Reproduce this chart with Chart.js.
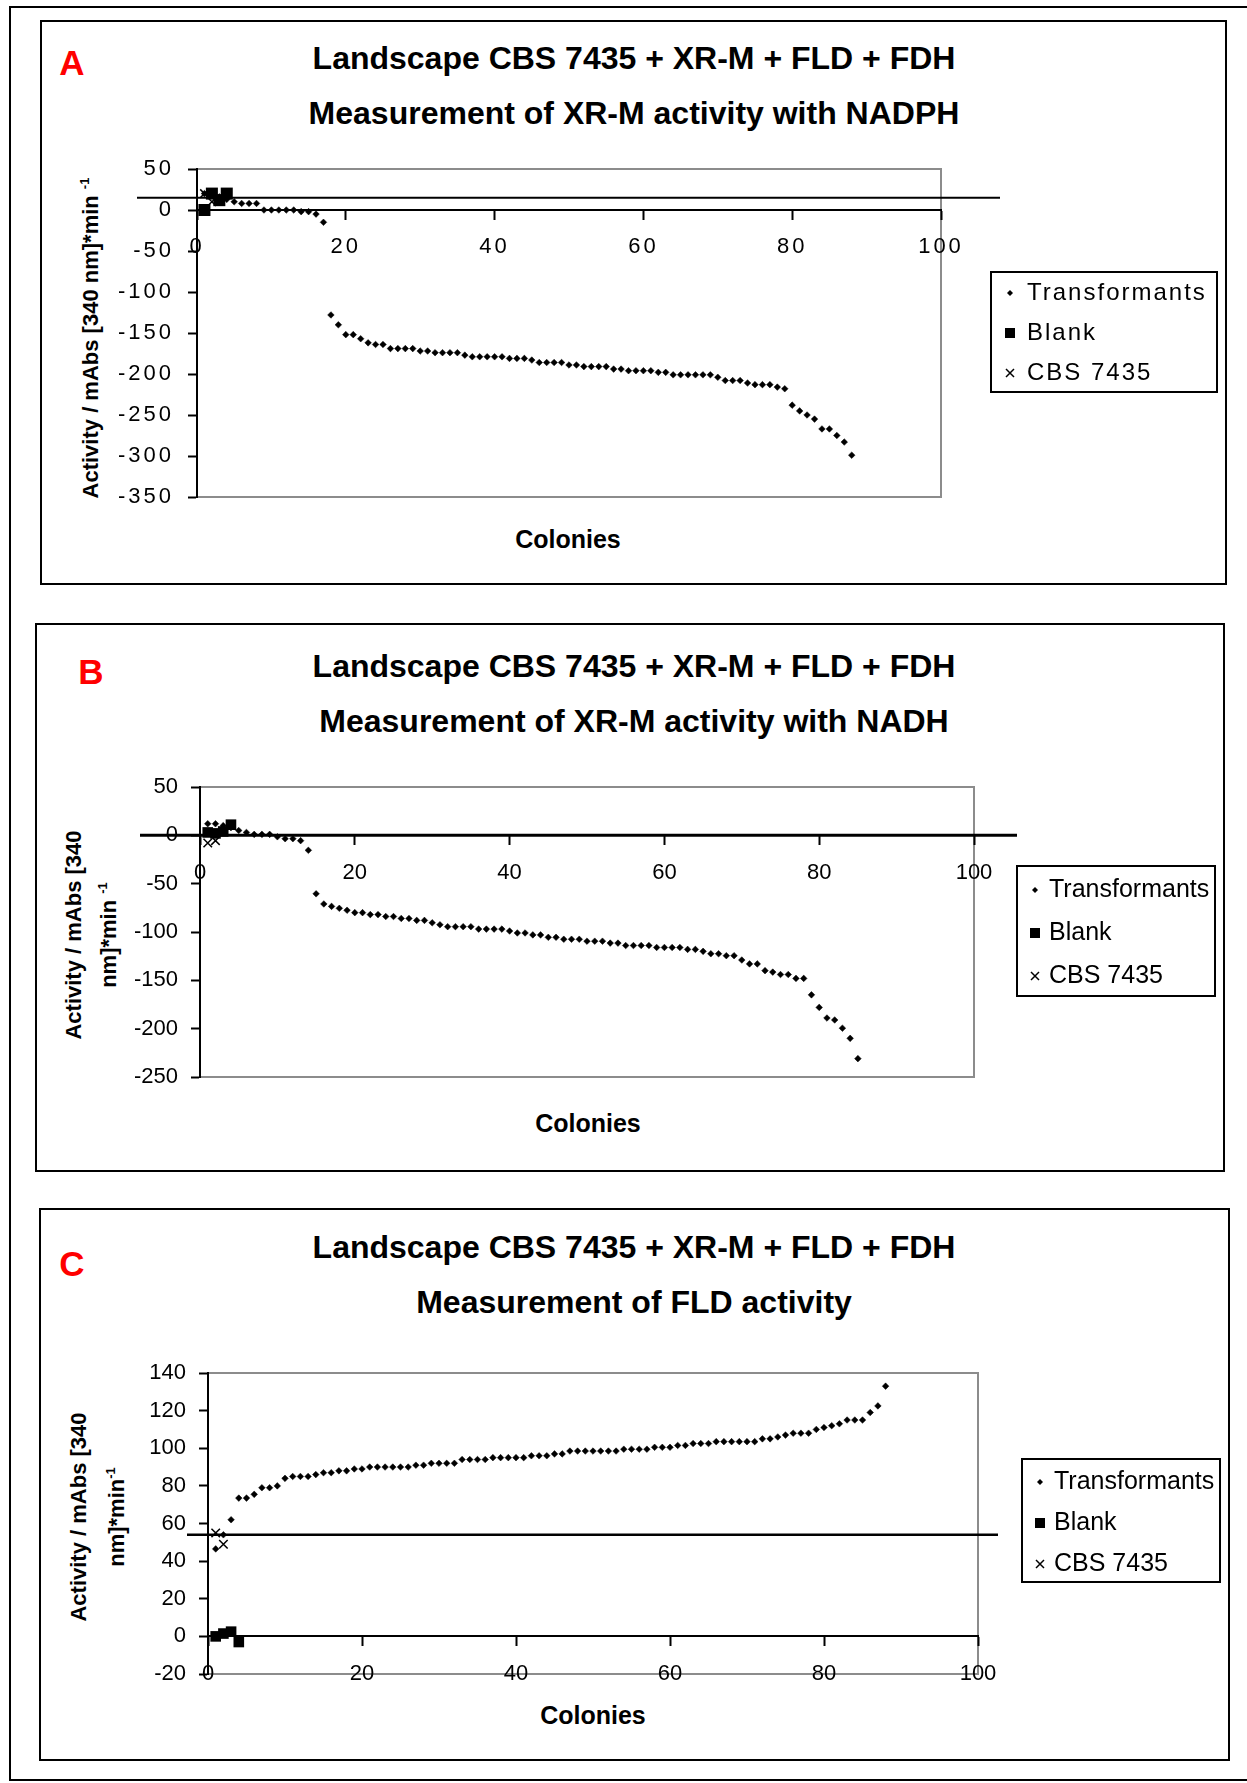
<!DOCTYPE html>
<html>
<head>
<meta charset="utf-8">
<script src="https://cdn.jsdelivr.net/npm/chart.js@4.4.1/dist/chart.umd.min.js"></script>
<style>
  body { margin: 0; background: #fff; width: 1247px; height: 1783px; position: relative; overflow: hidden;
         font-family: 'Liberation Sans', Arial, sans-serif; color: #000; }
  .frame { position: absolute; border: 2px solid #000; box-sizing: border-box; }
  .t { position: absolute; transform: translate(-50%, -50%); white-space: nowrap; font-weight: bold; }
  .letter { position: absolute; transform: translate(-50%, -50%); font-weight: bold; color: #ff0000; font-size: 35px; }
  .ytitle { position: absolute; transform: translate(-50%, -50%) rotate(-90deg); white-space: nowrap;
            font-weight: bold; text-align: center; }
  .ytitle sup { font-size: 13px; vertical-align: 9px; }
  canvas { position: absolute; left: 0; }
</style>
</head>
<body>
<div class="frame" style="left:9px;top:6px;width:1260px;height:1775px;"></div>
<div class="frame" style="left:40px;top:20px;width:1187px;height:565px;"></div>
<div class="frame" style="left:35px;top:623px;width:1190px;height:549px;"></div>
<div class="frame" style="left:39px;top:1208px;width:1191px;height:553px;"></div>

<div class="letter" style="left:72px;top:63px;">A</div>
<div class="letter" style="left:91px;top:672px;">B</div>
<div class="letter" style="left:72px;top:1264px;">C</div>

<div class="t" style="left:634px;top:58px;font-size:32px;">Landscape CBS 7435 + XR-M + FLD + FDH</div>
<div class="t" style="left:634px;top:113px;font-size:32px;">Measurement of XR-M activity with NADPH</div>
<div class="t" style="left:634px;top:666px;font-size:32px;">Landscape CBS 7435 + XR-M + FLD + FDH</div>
<div class="t" style="left:634px;top:721px;font-size:32px;">Measurement of XR-M activity with NADH</div>
<div class="t" style="left:634px;top:1247px;font-size:32px;">Landscape CBS 7435 + XR-M + FLD + FDH</div>
<div class="t" style="left:634px;top:1302px;font-size:32px;">Measurement of FLD activity</div>

<div class="t" style="left:568px;top:539px;font-size:25px;">Colonies</div>
<div class="t" style="left:588px;top:1123px;font-size:25px;">Colonies</div>
<div class="t" style="left:593px;top:1715px;font-size:25px;">Colonies</div>

<div class="ytitle" style="left:88px;top:338px;font-size:22px;line-height:24px;">Activity / mAbs [340 nm]*min <sup>-1</sup></div>
<div class="ytitle" style="left:91px;top:935px;font-size:22px;line-height:29px;">Activity / mAbs [340<br>nm]*min <sup>-1</sup></div>
<div class="ytitle" style="left:98px;top:1517px;font-size:22px;line-height:32px;">Activity / mAbs [340<br>nm]*min<sup>-1</sup></div>

<canvas id="chartA" width="1247" height="565" style="top:20px"></canvas>
<canvas id="chartB" width="1247" height="548" style="top:623px"></canvas>
<canvas id="chartC" width="1247" height="552" style="top:1208px"></canvas>

<script>
// ---- data ----
const seriesNames = ['Transformants', 'Blank', 'CBS 7435'];
const xRange = [0, 100, 20];

// A: XR-M activity with NADPH
const yRangeA = [-350, 50, 50];
const transformantsA = [20, 18, 16, 13, 10, 8, 8, 8, 0, 0, 0, 0, 0, -2, -2, -5, -15, -128, -140, -152,
  -152, -157, -162, -164, -164, -169, -169, -169, -169, -172, -172, -174, -174, -174, -174, -177, -179, -179, -179, -179,
  -179, -181, -181, -181, -183, -186, -186, -186, -186, -189, -189, -191, -191, -191, -191, -194, -194, -196, -196, -196,
  -196, -198, -198, -201, -201, -201, -201, -201, -201, -204, -208, -208, -208, -211, -213, -213, -213, -216, -218, -238,
  -245, -250, -255, -267, -267, -275, -283, -299];
const blankA = [0, 20, 12, 20];
const cbsA = [20, 10];
const cutoffA = 15;

// B: XR-M activity with NADH
const yRangeB = [-250, 50, 50];
const transformantsB = [12, 12, 10, 8, 5, 3, 1, 1, 1, -1.5, -3.5, -3.5, -5.5, -15.5, -60.5, -71, -73.5, -75.5, -77.5, -80,
  -80, -82, -82, -84, -84, -86, -86, -88, -88, -90.5, -92.5, -94.5, -94.5, -94.5, -94.5, -97, -97, -97, -97, -99,
  -101, -101, -103, -103, -105.5, -105.5, -107.5, -107.5, -107.5, -109.5, -109.5, -109.5, -111.5, -111.5, -114, -114, -114, -114, -116, -116,
  -116, -116, -118, -118, -120, -122.5, -122.5, -124.5, -124.5, -129, -133, -133, -140, -141.5, -144, -144, -148, -148, -165, -178,
  -189, -191, -199.5, -210, -231];
const blankB = [3, 2, 4, 11];
const cbsB = [-8, -5.5];
const cutoffB = 0;

// C: FLD activity
const yRangeC = [-20, 140, 20];
const transformantsC = [46.5, 54, 62, 73.5, 73.5, 75.5, 79, 79, 80, 84, 85, 85, 85, 86, 87, 87, 88, 88, 89, 89,
  90, 90, 90, 90, 90, 90, 91, 91, 92, 92, 92, 92, 94, 94, 94, 94, 95, 95, 95, 95,
  95, 96, 96, 96, 97, 97, 98.5, 98.5, 98.5, 98.5, 98.5, 98.5, 98.5, 99.5, 99.5, 99.5, 99.5, 100.5, 100.5, 100.5,
  101.5, 101.5, 102.5, 102.5, 102.5, 103.5, 103.5, 103.5, 103.5, 103.5, 103.5, 105, 105, 106, 107, 108, 108, 108, 110, 111,
  112, 113, 115, 115, 115, 119, 122.5, 133];
const blankC = [0, 1.5, 2.5, -3];
const cbsC = [55, 49];
const cutoffC = 54;

// colony number = position in the sorted list, starting at 1
const toPoints = vals => vals.map((v, i) => ({ x: i + 1, y: v }));

Chart.defaults.font.family = "'Liberation Sans', Arial, sans-serif";
Chart.defaults.color = '#000';

const plotFrame = {
  id: 'plotFrame',
  beforeDraw(chart, args, opts) {
    const { ctx, chartArea: a } = chart;
    ctx.save();
    ctx.strokeStyle = '#8c8c8c';
    ctx.lineWidth = 2;
    ctx.strokeRect(a.left, a.top, a.right - a.left, a.bottom - a.top);
    ctx.restore();
    // panel A was pasted in horizontally stretched, so its labels run wider
    ctx.letterSpacing = (opts.spacing || 0) + 'px';
  },
  afterDraw(chart) {
    chart.ctx.letterSpacing = '0px';
  }
};

// the mean line of the control strain, drawn wider than the plot like in the original
const cutoffLine = {
  id: 'cutoffLine',
  afterDatasetsDraw(chart, args, opts) {
    const { ctx, chartArea: a, scales } = chart;
    const py = scales.y.getPixelForValue(opts.value);
    ctx.save();
    ctx.strokeStyle = '#000';
    ctx.lineWidth = opts.width;
    ctx.beginPath();
    ctx.moveTo(a.left - opts.left, py);
    ctx.lineTo(a.right + opts.right, py);
    ctx.stroke();
    ctx.restore();
  }
};

function drawSymbol(ctx, style, x, y) {
  ctx.beginPath();
  if (style === 'rectRot') {
    ctx.moveTo(x, y - 3); ctx.lineTo(x + 3, y); ctx.lineTo(x, y + 3); ctx.lineTo(x - 3, y);
    ctx.closePath(); ctx.fill();
  } else if (style === 'rect') {
    ctx.fillRect(x - 5, y - 5, 10, 10);
  } else {
    ctx.lineWidth = 1.5;
    ctx.moveTo(x - 4, y - 4); ctx.lineTo(x + 4, y + 4);
    ctx.moveTo(x + 4, y - 4); ctx.lineTo(x - 4, y + 4);
    ctx.stroke();
  }
}

const boxLegend = {
  id: 'boxLegend',
  afterDraw(chart, args, o) {
    const ctx = chart.ctx;
    ctx.save();
    ctx.strokeStyle = '#000';
    ctx.fillStyle = '#000';
    ctx.lineWidth = 2;
    ctx.strokeRect(o.x, o.y, o.w, o.h);
    ctx.font = o.size + "px 'Liberation Sans', Arial, sans-serif";
    ctx.letterSpacing = (o.spacing || 0) + 'px';
    ctx.textBaseline = 'middle';
    chart.data.datasets.forEach((ds, i) => {
      const cy = o.y + o.first + i * o.gap;
      drawSymbol(ctx, ds.pointStyle, o.x + o.symX, cy);
      ctx.fillText(ds.label, o.x + o.textX, cy);
    });
    ctx.restore();
  }
};

function makeChart(id, p) {
  const canvas = document.getElementById(id);
  return new Chart(canvas, {
    type: 'scatter',
    data: {
      datasets: [
        { label: seriesNames[0], data: toPoints(p.transformants), pointStyle: 'rectRot', pointRadius: 3.3,
          pointBackgroundColor: '#000', pointBorderColor: '#000', pointBorderWidth: 0.5, order: 3 },
        { label: seriesNames[1], data: toPoints(p.blank), pointStyle: 'rect', pointRadius: p.squareR,
          pointBackgroundColor: '#000', pointBorderWidth: 0, order: 1 },
        { label: seriesNames[2], data: toPoints(p.cbs), pointStyle: 'crossRot', pointRadius: 6,
          pointBorderColor: '#000', pointBorderWidth: 1.5, order: 2 }
      ]
    },
    options: {
      responsive: false,
      animation: false,
      devicePixelRatio: 1,
      layout: { padding: { left: 0, top: p.area.top - p.top, right: 1247 - p.area.right, bottom: p.top + p.height - p.area.bottom } },
      plugins: {
        legend: { display: false },
        tooltip: { enabled: false },
        plotFrame: { spacing: p.tickSpacing },
        cutoffLine: p.cutoff,
        boxLegend: Object.assign({}, p.legend, { y: p.legend.y - p.top })
      },
      scales: {
        x: {
          type: 'linear', position: { y: 0 }, min: xRange[0], max: xRange[1],
          ticks: { stepSize: xRange[2], padding: 15, font: { size: p.tickSize }, color: '#000' },
          grid: { drawOnChartArea: false, drawTicks: true, tickLength: 9, tickColor: '#000', tickWidth: 2 },
          border: { color: '#000', width: 2 }
        },
        y: {
          type: 'linear', position: 'left', min: p.yRange[0], max: p.yRange[1],
          ticks: { stepSize: p.yRange[2], padding: p.yPad, font: { size: p.tickSize }, color: '#000' },
          grid: { drawOnChartArea: false, drawTicks: true, tickLength: 9, tickColor: '#000', tickWidth: 2 },
          border: { color: '#000', width: 2 },
          afterFit: s => { s.width = p.area.left; }
        }
      }
    },
    plugins: [plotFrame, cutoffLine, boxLegend]
  });
}

makeChart('chartA', {
  top: 20, height: 565, area: { left: 197, top: 169, right: 941, bottom: 497 },
  yRange: yRangeA, transformants: transformantsA, blank: blankA, cbs: cbsA,
  tickSize: 22, yPad: 14, tickSpacing: 3, squareR: 8.5,
  cutoff: { value: cutoffA, width: 2, left: 60, right: 59 },
  legend: { x: 991, y: 272, w: 226, h: 120, first: 21, gap: 40, symX: 19, textX: 36, size: 24, spacing: 2 }
});
makeChart('chartB', {
  top: 623, height: 548, area: { left: 200, top: 787, right: 974, bottom: 1077 },
  yRange: yRangeB, transformants: transformantsB, blank: blankB, cbs: cbsB,
  tickSize: 22, yPad: 13, tickSpacing: 0, squareR: 7.5,
  cutoff: { value: cutoffB, width: 3, left: 60, right: 43 },
  legend: { x: 1017, y: 866, w: 198, h: 130, first: 24, gap: 43, symX: 18, textX: 32, size: 25 }
});
makeChart('chartC', {
  top: 1208, height: 552, area: { left: 208, top: 1373, right: 978, bottom: 1674 },
  yRange: yRangeC, transformants: transformantsC, blank: blankC, cbs: cbsC,
  tickSize: 22, yPad: 13, tickSpacing: 0, squareR: 7.5,
  cutoff: { value: cutoffC, width: 2.5, left: 21, right: 20 },
  legend: { x: 1022, y: 1459, w: 198, h: 123, first: 23, gap: 41, symX: 18, textX: 32, size: 25 }
});
</script>
</body>
</html>
